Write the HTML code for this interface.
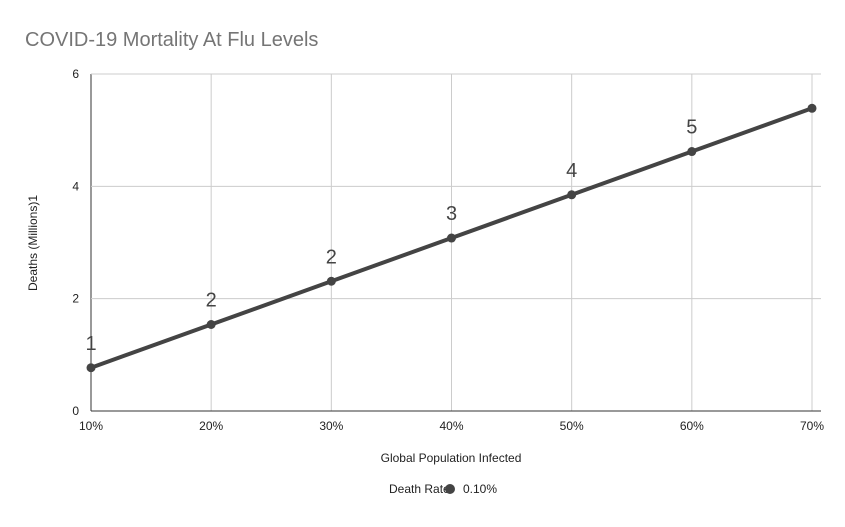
<!DOCTYPE html>
<html><head><meta charset="utf-8"><style>
body{margin:0;background:#fff;font-family:"Liberation Sans",Arial,sans-serif;}
svg text{font-family:"Liberation Sans",Arial,sans-serif;}
</style></head><body>
<svg id="chart" width="845" height="522" viewBox="0 0 845 522" xmlns="http://www.w3.org/2000/svg">
<rect width="845" height="522" fill="#fff"/>
<text x="25" y="46" font-size="20" fill="#757575">COVID-19 Mortality At Flu Levels</text>
<g id="grid"></g>
<g id="series"></g>
<text x="451" y="462" font-size="12" text-anchor="middle" fill="#222">Global Population Infected</text>
<text transform="translate(37,243) rotate(-90)" font-size="12" text-anchor="middle" fill="#222">Deaths (Millions)1</text>
<g>
<text x="389" y="493" font-size="12" fill="#222">Death Rate</text>
<circle cx="450" cy="489" r="5" fill="#444"/>
<text x="463" y="493" font-size="12" fill="#222">0.10%</text>
</g>
</svg>
<script>
const categories=[10,20,30,40,50,60,70];
const deaths=[0.77,1.54,2.31,3.08,3.85,4.62,5.39];
const dataLabels=["1","2","2","3","4","5",""];
const yTicks=[0,2,4,6];
const xTickLabels=["10%","20%","30%","40%","50%","60%","70%"];
const NS="http://www.w3.org/2000/svg";
const x=v=>91+(v-10)*(812-91)/60;
const y=v=>411-v*(411-74)/6;
const grid=document.getElementById('grid'),ser=document.getElementById('series');
function mk(tag,attrs,parent,txt){const e=document.createElementNS(NS,tag);for(const k in attrs)e.setAttribute(k,attrs[k]);if(txt!==undefined)e.textContent=txt;parent.appendChild(e);return e;}
categories.forEach((c,i)=>{
 const l=mk('line',{x1:x(c),x2:x(c),y1:74,y2:411,stroke:i===0?'#333':'#ccc','stroke-width':1},grid);
 
 
 const t=mk('text',{x:x(c),y:430,'font-size':12,'text-anchor':'middle',fill:'#222'},grid,xTickLabels[i]);
 
 
});
yTicks.forEach(v=>{
 const l=mk('line',{x1:91,x2:821,y1:y(v),y2:y(v),stroke:v===0?'#333':'#ccc','stroke-width':1},grid);
 
 
 const t=mk('text',{x:79,y:y(v)+4,'font-size':12,'text-anchor':'end',fill:'#222'},grid,String(v));
 
 
});
const pts=categories.map((c,i)=>x(c)+','+y(deaths[i])).join(' ');
const pl=mk('polyline',{points:pts,fill:'none',stroke:'#444','stroke-width':4,'stroke-linejoin':'round'},ser);


categories.forEach((c,i)=>{
 const p=mk('circle',{cx:x(c),cy:y(deaths[i]),r:4.5,fill:'#444'},ser);
 
 
 if(dataLabels[i]){
  const t=mk('text',{x:x(c),y:y(deaths[i])-18,'font-size':20,'text-anchor':'middle',fill:'#444'},ser,dataLabels[i]);
  
  
 }
});
</script>
</body></html>
